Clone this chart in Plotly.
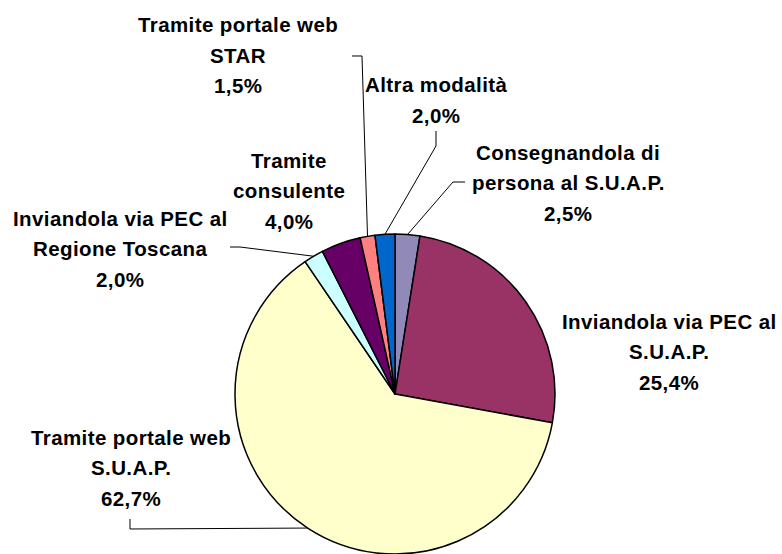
import math
import plotly.graph_objects as go

# ---- data ----
categories = [
    "Consegnandola di persona al S.U.A.P.",
    "Inviandola via PEC al S.U.A.P.",
    "Tramite portale web S.U.A.P.",
    "Inviandola via PEC al Regione Toscana",
    "Tramite consulente",
    "Tramite portale web STAR",
    "Altra modalità",
]
values = [2.5, 25.4, 62.7, 2.0, 4.0, 1.5, 2.0]
value_labels = ["2,5%", "25,4%", "62,7%", "2,0%", "4,0%", "1,5%", "2,0%"]
label_lines = [
    ["Consegnandola di", "persona al S.U.A.P."],
    ["Inviandola via PEC al", "S.U.A.P."],
    ["Tramite portale web", "S.U.A.P."],
    ["Inviandola via PEC al", "Regione Toscana"],
    ["Tramite", "consulente"],
    ["Tramite portale web", "STAR"],
    ["Altra modalità"],
]
colors = ["#918AB9", "#993366", "#FFFFCC", "#CCFFFF", "#660066", "#FF8080", "#0066CC"]

# ---- layout constants (pixels) ----
W, H = 782, 554
R = 160
CX = 395
CY = H - R

# label block positions: (center x, first line center y), line step
label_pos = [
    (568, 152),
    (669, 321),
    (131, 437),
    (120, 218),
    (289, 160),
    (238, 25),
    (436, 85),
]
LINE_STEP = 30.5

# leader line start points (pixels), ending at slice midpoint on the rim
leaders = {
    0: [(465, 182), (453, 182)],
    2: [(130, 519), (130, 529)],
    3: [(230, 247), (240, 247)],
    5: [(352, 56), (362, 56)],
    6: [(436, 131), (436, 146)],
}


def px(x):
    return x / W


def py(y):
    return 1 - y / H


fig = go.Figure()
fig.add_trace(go.Pie(
    labels=categories,
    values=values,
    sort=False,
    direction="clockwise",
    rotation=0,
    textinfo="none",
    hoverinfo="skip",
    marker=dict(colors=colors, line=dict(color="#000000", width=1.5)),
    domain=dict(x=[(CX - R) / W, (CX + R) / W], y=[0, 2 * R / H]),
    showlegend=False,
))

annotations = []
font = dict(family="Liberation Sans, Arial, sans-serif", size=20.5, color="#000000")
for i, lines in enumerate(label_lines):
    x0, y0 = label_pos[i]
    all_lines = lines + [value_labels[i]]
    for k, t in enumerate(all_lines):
        annotations.append(dict(
            x=px(x0), y=py(y0 + k * LINE_STEP), xref="paper", yref="paper",
            text=f'<b><span style="letter-spacing:0.4px">{t}</span></b>',
            showarrow=False, xanchor="center", yanchor="middle", font=font,
        ))

# slice midpoints from data
total = sum(values)
cum = 0.0
mids = []
for v in values:
    mids.append((cum + v / 2) / total * 360.0)
    cum += v

shapes = []
for i, pts in leaders.items():
    th = math.radians(mids[i])
    ax = CX + R * math.sin(th)
    ay = CY - R * math.cos(th)
    allp = pts + [(ax, ay)]
    path = "M " + " L ".join(f"{px(x):.5f},{py(y):.5f}" for x, y in allp)
    shapes.append(dict(type="path", path=path, xref="paper", yref="paper",
                       line=dict(color="#000000", width=1)))

fig.update_layout(
    width=W, height=H,
    margin=dict(l=0, r=0, t=0, b=0),
    paper_bgcolor="#FFFFFF",
    plot_bgcolor="#FFFFFF",
    annotations=annotations,
    shapes=shapes,
)

fig.write_html(
    "out.html",
    config={"displayModeBar": False, "staticPlot": True},
    post_script="document.body.style.margin='0';document.body.style.overflow='hidden';",
)
